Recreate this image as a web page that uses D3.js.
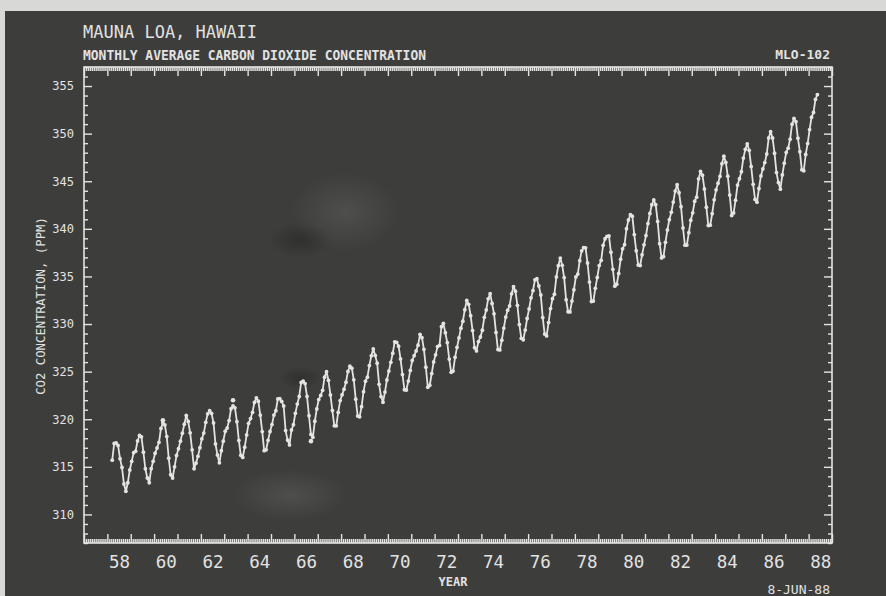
<!DOCTYPE html>
<html><head><meta charset="utf-8">
<script src="https://cdn.jsdelivr.net/npm/d3@7"></script>
<style>
html,body{margin:0;padding:0;background:#d8d8d6;}
svg{display:block;}
text{font-family:"DejaVu Sans Mono","Liberation Mono",monospace;fill:#e2e2e2;}
</style></head>
<body>
<script>
// ---- DATA (monthly average CO2, ppm) ----
const firstYear = 1958, firstMonth = 3; // March 1958
const co2_1950s = [315.70,317.45,317.51,317.24,315.86,314.93,313.20,312.43,313.33,314.67,
  315.58,316.49,316.65,317.72,318.29,318.15,316.54,314.80,313.84,313.33,314.81,315.58];
const co2_1960s = [
  316.43,316.98,317.58,319.03,319.60,319.40,318.18,315.90,314.17,313.83,315.00,316.19,
  316.90,317.70,318.54,319.48,320.40,319.77,318.57,316.79,314.80,315.38,316.10,317.01,
  317.94,318.55,319.68,320.57,320.90,320.62,319.61,317.40,316.25,315.42,316.69,317.70,
  318.74,319.07,319.86,321.10,321.40,321.20,319.74,317.77,316.21,315.99,317.07,318.35,
  319.57,320.07,320.73,321.77,322.25,321.89,320.44,318.70,316.70,316.79,317.79,318.71,
  319.44,320.44,320.89,322.13,322.16,321.87,321.39,318.81,317.81,317.30,318.87,319.42,
  320.62,321.59,322.39,323.87,324.01,323.75,322.39,320.37,318.40,318.10,319.79,321.08,
  322.07,322.50,323.04,324.42,325.00,324.09,322.55,320.92,319.31,319.31,320.72,321.96,
  322.57,323.15,323.89,325.02,325.57,325.36,324.14,322.11,320.33,320.25,321.32,322.90,
  324.00,324.42,325.64,326.66,327.38,326.70,325.89,323.67,322.38,321.78,322.85,324.12];
const co2_1970s = [
  325.06,325.98,326.93,328.13,328.08,327.67,326.34,324.69,323.10,323.07,324.01,325.13,
  326.17,326.68,327.18,327.78,328.92,328.57,327.34,325.46,323.36,323.57,324.80,326.01,
  326.77,327.63,327.75,329.72,330.07,329.09,328.05,326.32,324.93,325.06,326.50,327.55,
  328.54,329.56,330.30,331.50,332.48,332.07,330.87,329.31,327.51,327.18,328.16,328.64,
  329.35,330.71,331.48,332.65,333.19,332.16,331.07,329.12,327.32,327.28,328.30,329.58,
  330.73,331.46,331.90,333.17,333.94,333.45,331.97,329.95,328.50,328.34,329.37,330.58,
  331.59,332.75,333.52,334.64,334.77,334.00,333.06,330.68,328.95,328.75,330.15,331.62,
  332.66,333.13,334.95,336.13,336.93,336.17,334.88,332.56,331.29,331.27,332.41,333.60,
  334.95,335.25,336.66,337.69,338.03,338.01,336.41,334.41,332.37,332.41,333.75,334.90,
  336.14,336.69,338.27,338.96,339.21,339.26,337.54,335.75,333.98,334.19,335.31,336.81];
const co2_1980s = [
  337.90,338.34,340.01,340.93,341.48,341.33,339.40,337.70,336.19,336.15,337.27,338.32,
  339.29,340.55,341.61,342.53,343.03,342.54,340.78,338.44,336.95,337.08,338.58,339.88,
  340.96,341.73,342.81,343.97,344.63,343.79,342.32,340.09,338.28,338.29,339.60,340.90,
  341.68,342.90,343.33,345.25,346.03,345.63,344.19,342.27,340.35,340.38,341.59,343.05,
  344.10,344.79,345.52,346.84,347.63,346.98,345.53,343.55,341.40,341.67,343.01,344.60,
  345.26,346.00,347.43,348.35,348.93,348.25,346.56,344.68,343.09,342.80,344.24,345.56,
  346.29,346.96,347.86,349.55,350.21,349.54,347.94,345.91,344.86,344.17,345.66,346.90,
  348.02,348.47,349.42,350.99,351.60,351.25,349.52,348.10,346.20,346.10,347.81,348.96,
  350.43,351.72,352.22,353.59,354.10];
// isolated measured points off the curve: [decimal year, ppm]
const offCurveTimes = [1963.375, 1966.71, 1960.375];
const offCurveValues = [322.0, 317.7, 319.9];
const yMajorTicks = [310,315,320,325,330,335,340,345,350,355];
const xLabelYears = [1958,1960,1962,1964,1966,1968,1970,1972,1974,1976,1978,1980,1982,1984,1986,1988];
const titleText = "MAUNA LOA, HAWAII";
const subtitleText = "MONTHLY AVERAGE CARBON DIOXIDE CONCENTRATION";
const codeText = "MLO-102";
const yLabelText = "CO2 CONCENTRATION, (PPM)";
const xLabelText = "YEAR";
const dateText = "8-JUN-88";

// ---- BUILD ----
const W = 886, H = 596;
const pL = 84, pR = 832, pT = 67, pB = 543;
const allValues = [].concat(co2_1950s, co2_1960s, co2_1970s, co2_1980s);
const series = allValues.map((v, i) => {
  const m = firstMonth - 1 + i;
  return {t: firstYear + Math.floor(m / 12) + ((m % 12) + 0.5) / 12, v};
});
const offPts = offCurveTimes.map((t, i) => ({t, v: offCurveValues[i]}));

const x = d3.scaleLinear().domain([1957, 1989]).range([pL, pR]);
const y = d3.scaleLinear().domain([307, 357]).range([pB, pT]);

const svg = d3.select("body").append("svg").attr("width", W).attr("height", H);
svg.append("rect").attr("x", 5).attr("y", 11).attr("width", W - 5).attr("height", H - 11).attr("fill", "#3d3d3c");

const defs = svg.append("defs");
const gL = defs.append("radialGradient").attr("id", "lightSmudge");
gL.append("stop").attr("offset", "0%").attr("stop-color", "#fff").attr("stop-opacity", 0.09);
gL.append("stop").attr("offset", "100%").attr("stop-color", "#fff").attr("stop-opacity", 0);
const gD = defs.append("radialGradient").attr("id", "darkSmudge");
gD.append("stop").attr("offset", "0%").attr("stop-color", "#000").attr("stop-opacity", 0.22);
gD.append("stop").attr("offset", "100%").attr("stop-color", "#000").attr("stop-opacity", 0);
svg.append("ellipse").attr("cx", 345).attr("cy", 212).attr("rx", 55).attr("ry", 40).attr("fill", "url(#lightSmudge)");
svg.append("ellipse").attr("cx", 300).attr("cy", 240).attr("rx", 32).attr("ry", 18).attr("fill", "url(#darkSmudge)");
svg.append("ellipse").attr("cx", 290).attr("cy", 495).attr("rx", 58).attr("ry", 26).attr("fill", "url(#lightSmudge)");
svg.append("ellipse").attr("cx", 300).attr("cy", 378).attr("rx", 22).attr("ry", 12).attr("fill", "url(#darkSmudge)");

const ink = "#e4e4e2";
svg.append("rect").attr("x", pL).attr("y", pT).attr("width", pR - pL).attr("height", pB - pT)
  .attr("fill", "none").attr("stroke", ink).attr("stroke-width", 1.6);

const yMinor = d3.range(307, 358, 1).filter(v => !yMajorTicks.includes(v));
const years = d3.range(1957, 1990, 1);
const months = d3.range(0, 32 * 12 + 1).map(i => 1957 + i / 12).filter(v => Math.abs(v - Math.round(v)) > 1e-6);

function styleAxis(g) {
  g.select(".domain").remove();
  g.selectAll(".tick line").attr("stroke", ink).attr("stroke-width", 1.4);
}
svg.append("g").attr("transform", `translate(${pL},0)`)
  .call(d3.axisLeft(y).tickValues(yMajorTicks).tickSize(-8).tickPadding(10).tickFormat(d3.format("d")))
  .call(styleAxis)
  .call(g => g.selectAll("text").attr("font-size", 12).attr("fill", ink));
svg.append("g").attr("transform", `translate(${pL},0)`)
  .call(d3.axisLeft(y).tickValues(yMinor).tickSize(-4).tickFormat("")).call(styleAxis);
svg.append("g").attr("transform", `translate(${pR},0)`)
  .call(d3.axisRight(y).tickValues(yMajorTicks).tickSize(-8).tickFormat("")).call(styleAxis);
svg.append("g").attr("transform", `translate(${pR},0)`)
  .call(d3.axisRight(y).tickValues(yMinor).tickSize(-4).tickFormat("")).call(styleAxis);
svg.append("g").attr("transform", `translate(0,${pB})`)
  .call(d3.axisBottom(x).tickValues(years).tickSize(-9).tickFormat("")).call(styleAxis);
svg.append("g").attr("transform", `translate(0,${pB})`)
  .call(d3.axisBottom(x).tickValues(months).tickSize(-4).tickFormat("")).call(styleAxis);
svg.append("g").attr("transform", `translate(0,${pB})`)
  .call(d3.axisBottom(x).tickValues(xLabelYears.map(v => v + 0.5)).tickSize(0).tickPadding(13)
    .tickFormat(d => String(Math.floor(d) % 100).padStart(2, "0")))
  .call(g => g.select(".domain").remove())
  .call(g => g.selectAll("text").attr("font-size", 17.5).attr("fill", ink));
svg.append("g").attr("transform", `translate(0,${pT})`)
  .call(d3.axisTop(x).tickValues(years).tickSize(-9).tickFormat("")).call(styleAxis);
svg.append("g").attr("transform", `translate(0,${pT})`)
  .call(d3.axisTop(x).tickValues(months).tickSize(-4).tickFormat("")).call(styleAxis);

const line = d3.line().x(d => x(d.t)).y(d => y(d.v));
svg.append("path").datum(series).attr("d", line).attr("fill", "none")
  .attr("stroke", ink).attr("stroke-width", 1.8).attr("stroke-linejoin", "round");
svg.append("g").selectAll("circle").data(series).join("circle")
  .attr("cx", d => x(d.t)).attr("cy", d => y(d.v)).attr("r", 1.9).attr("fill", ink);
svg.append("g").selectAll("circle").data(offPts).join("circle")
  .attr("cx", d => x(d.t)).attr("cy", d => y(d.v)).attr("r", 2.3).attr("fill", ink);

svg.append("text").attr("x", 83).attr("y", 38).attr("font-size", 17).text(titleText);
svg.append("text").attr("x", 83).attr("y", 60).attr("font-size", 14).attr("font-weight", "bold")
  .attr("textLength", 343).attr("lengthAdjust", "spacingAndGlyphs").text(subtitleText);
svg.append("text").attr("x", 830).attr("y", 59).attr("font-size", 13).attr("font-weight", "bold")
  .attr("text-anchor", "end").text(codeText);
svg.append("text").attr("transform", "translate(45,306) rotate(-90)").attr("font-size", 12.3)
  .attr("text-anchor", "middle").text(yLabelText);
svg.append("text").attr("x", 453).attr("y", 586).attr("font-size", 12).attr("font-weight", "bold")
  .attr("text-anchor", "middle").text(xLabelText);
svg.append("text").attr("x", 830).attr("y", 594).attr("font-size", 13)
  .attr("text-anchor", "end").text(dateText);
</script>
</body></html>
